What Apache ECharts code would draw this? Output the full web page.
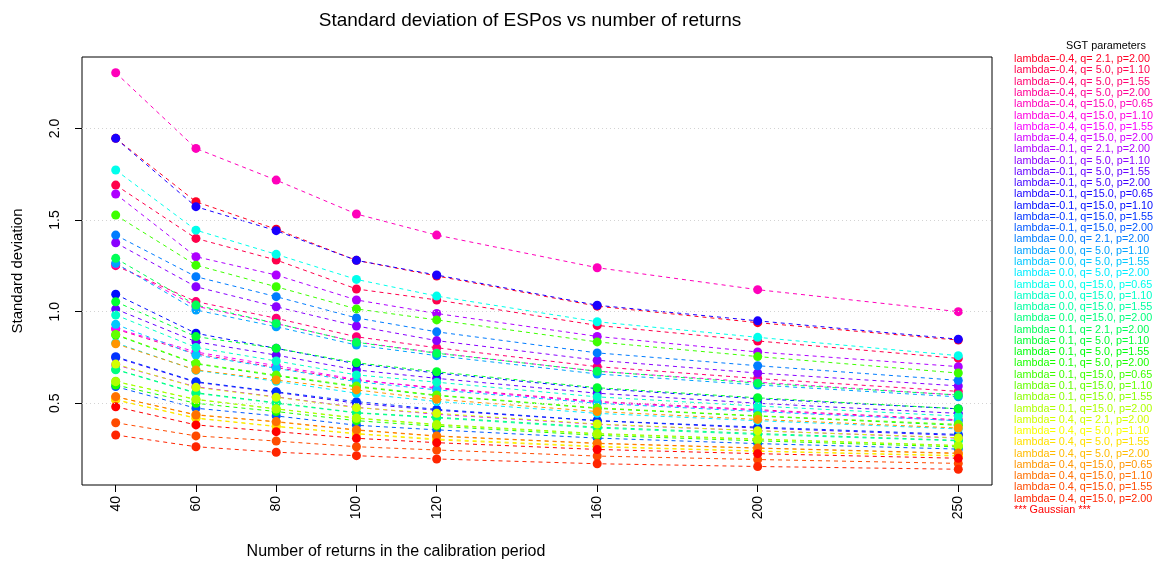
<!DOCTYPE html>
<html><head><meta charset="utf-8">
<script src="https://cdn.jsdelivr.net/npm/echarts@6/dist/echarts.min.js"></script>
<style>html,body{margin:0;padding:0;background:#fff}#c{width:1158px;height:563px}</style>
</head><body><div id="c"></div>
<script>
const xValues = [40, 60, 80, 100, 120, 160, 200, 250];
const yTicks = [0.5, 1.0, 1.5, 2.0];
const seriesNames = [
  "lambda=-0.4, q= 2.1, p=2.00","lambda=-0.4, q= 5.0, p=1.10","lambda=-0.4, q= 5.0, p=1.55","lambda=-0.4, q= 5.0, p=2.00",
  "lambda=-0.4, q=15.0, p=0.65","lambda=-0.4, q=15.0, p=1.10","lambda=-0.4, q=15.0, p=1.55","lambda=-0.4, q=15.0, p=2.00",
  "lambda=-0.1, q= 2.1, p=2.00","lambda=-0.1, q= 5.0, p=1.10","lambda=-0.1, q= 5.0, p=1.55","lambda=-0.1, q= 5.0, p=2.00",
  "lambda=-0.1, q=15.0, p=0.65","lambda=-0.1, q=15.0, p=1.10","lambda=-0.1, q=15.0, p=1.55","lambda=-0.1, q=15.0, p=2.00",
  "lambda= 0.0, q= 2.1, p=2.00","lambda= 0.0, q= 5.0, p=1.10","lambda= 0.0, q= 5.0, p=1.55","lambda= 0.0, q= 5.0, p=2.00",
  "lambda= 0.0, q=15.0, p=0.65","lambda= 0.0, q=15.0, p=1.10","lambda= 0.0, q=15.0, p=1.55","lambda= 0.0, q=15.0, p=2.00",
  "lambda= 0.1, q= 2.1, p=2.00","lambda= 0.1, q= 5.0, p=1.10","lambda= 0.1, q= 5.0, p=1.55","lambda= 0.1, q= 5.0, p=2.00",
  "lambda= 0.1, q=15.0, p=0.65","lambda= 0.1, q=15.0, p=1.10","lambda= 0.1, q=15.0, p=1.55","lambda= 0.1, q=15.0, p=2.00",
  "lambda= 0.4, q= 2.1, p=2.00","lambda= 0.4, q= 5.0, p=1.10","lambda= 0.4, q= 5.0, p=1.55","lambda= 0.4, q= 5.0, p=2.00",
  "lambda= 0.4, q=15.0, p=0.65","lambda= 0.4, q=15.0, p=1.10","lambda= 0.4, q=15.0, p=1.55","lambda= 0.4, q=15.0, p=2.00",
  "*** Gaussian ***"
];
const s00 = [1.946,1.600,1.450,1.280,1.195,1.030,0.940,0.845];
const s01 = [1.691,1.400,1.282,1.124,1.064,0.925,0.840,0.745];
const s02 = [1.251,1.055,0.964,0.863,0.803,0.700,0.635,0.565];
const s03 = [0.905,0.770,0.695,0.625,0.585,0.510,0.465,0.410];
const s04 = [2.304,1.891,1.718,1.533,1.418,1.240,1.120,1.000];
const s05 = [1.260,1.030,0.935,0.835,0.775,0.675,0.615,0.545];
const s06 = [0.909,0.780,0.705,0.630,0.580,0.505,0.460,0.405];
const s07 = [0.710,0.590,0.535,0.478,0.440,0.385,0.350,0.310];
const s08 = [1.642,1.300,1.200,1.064,0.990,0.865,0.780,0.700];
const s09 = [1.376,1.136,1.027,0.922,0.842,0.735,0.665,0.595];
const s10 = [1.014,0.836,0.763,0.682,0.636,0.555,0.500,0.445];
const s11 = [0.750,0.615,0.560,0.500,0.462,0.405,0.365,0.325];
const s12 = [1.946,1.573,1.442,1.280,1.200,1.035,0.950,0.850];
const s13 = [1.095,0.882,0.800,0.715,0.665,0.580,0.525,0.470];
const s14 = [0.754,0.618,0.563,0.509,0.467,0.405,0.370,0.330];
const s15 = [0.591,0.473,0.431,0.380,0.355,0.310,0.280,0.250];
const s16 = [1.418,1.191,1.082,0.966,0.890,0.775,0.705,0.625];
const s17 = [1.264,1.009,0.918,0.818,0.760,0.660,0.600,0.535];
const s18 = [0.931,0.763,0.691,0.618,0.573,0.500,0.455,0.405];
const s19 = [0.830,0.680,0.620,0.555,0.510,0.445,0.405,0.360];
const s20 = [1.773,1.445,1.313,1.176,1.085,0.945,0.860,0.760];
const s21 = [0.982,0.805,0.731,0.655,0.615,0.535,0.485,0.430];
const s22 = [0.683,0.555,0.500,0.447,0.420,0.365,0.330,0.295];
const s23 = [0.685,0.558,0.503,0.449,0.424,0.370,0.335,0.298];
const s24 = [1.291,1.036,0.936,0.833,0.773,0.675,0.610,0.545];
const s25 = [1.054,0.864,0.800,0.721,0.672,0.585,0.530,0.470];
const s26 = [0.873,0.715,0.650,0.590,0.542,0.472,0.430,0.380];
const s27 = [0.600,0.500,0.455,0.405,0.375,0.325,0.295,0.262];
const s28 = [1.527,1.254,1.136,1.015,0.955,0.835,0.755,0.665];
const s29 = [0.876,0.718,0.654,0.594,0.545,0.475,0.432,0.385];
const s30 = [0.620,0.520,0.470,0.420,0.385,0.335,0.305,0.270];
const s31 = [0.618,0.522,0.469,0.418,0.382,0.332,0.302,0.268];
const s32 = [0.714,0.587,0.533,0.476,0.445,0.387,0.350,0.312];
const s33 = [0.520,0.420,0.375,0.335,0.305,0.265,0.240,0.215];
const s34 = [0.518,0.418,0.373,0.333,0.300,0.262,0.238,0.212];
const s35 = [0.535,0.438,0.398,0.353,0.320,0.280,0.255,0.225];
const s36 = [0.825,0.682,0.627,0.573,0.522,0.455,0.412,0.365];
const s37 = [0.536,0.436,0.400,0.355,0.322,0.282,0.256,0.228];
const s38 = [0.394,0.322,0.294,0.263,0.245,0.212,0.193,0.172];
const s39 = [0.327,0.263,0.233,0.214,0.196,0.170,0.155,0.140];
const s40 = [0.481,0.382,0.345,0.309,0.285,0.248,0.225,0.200];
const seriesValues = [s00,s01,s02,s03,s04,s05,s06,s07,s08,s09,s10,s11,s12,s13,s14,s15,s16,s17,s18,s19,s20,
  s21,s22,s23,s24,s25,s26,s27,s28,s29,s30,s31,s32,s33,s34,s35,s36,s37,s38,s39,s40];

// reversed rainbow palette (pure HSV hues)
function hsv(h){
  const i=Math.floor(h*6), f=h*6-i, q=1-f, t=f;
  let r,g,b;
  switch(i%6){case 0:r=1;g=t;b=0;break;case 1:r=q;g=1;b=0;break;case 2:r=0;g=1;b=t;break;
    case 3:r=0;g=q;b=1;break;case 4:r=t;g=0;b=1;break;default:r=1;g=0;b=q;}
  const hx=v=>Math.round(v*255).toString(16).padStart(2,'0');
  return '#'+hx(r)+hx(g)+hx(b);
}
const n = seriesNames.length;
const colors = seriesNames.map((_,i)=>hsv((n-1-i)/n));

const FONT = 'Liberation Sans, Arial, sans-serif';
const chart = echarts.init(document.getElementById('c'), null, {renderer:'canvas'});
const series = seriesNames.map((name,i)=>({
  name, type:'line',
  data: xValues.map((x,k)=>[x, seriesValues[i][k]]),
  symbol:'circle', symbolSize:9,
  itemStyle:{color:colors[i]},
  lineStyle:{color:colors[i], width:1, type:[4,4]},
  emphasis:{disabled:true}, animation:false
}));
series[0].markLine = {
  silent:true, symbol:'none', label:{show:false}, animation:false,
  lineStyle:{color:'#d3d3d3', type:[1,3], width:1},
  data: yTicks.map(v=>({yAxis:v}))
};
chart.setOption({
  backgroundColor:'#fff',
  animation:false,
  title:[{text:'Standard deviation of ESPos vs number of returns', left:525, top:6, textAlign:'center',
    textStyle:{fontFamily:FONT, fontSize:19, fontWeight:'normal', color:'#000'}}],
  grid:{left:82, right:166, top:57, bottom:78, show:true, borderColor:'#000', borderWidth:1, backgroundColor:'transparent'},
  xAxis:{type:'value', min:31.6, max:258.4,
    axisLine:{show:false}, splitLine:{show:false},
    axisTick:{show:true, customValues:xValues, length:7, inside:false, lineStyle:{color:'#000'}},
    axisLabel:{customValues:xValues, rotate:90, margin:11, fontFamily:FONT, fontSize:14, color:'#000'}},
  yAxis:{type:'value', min:0.054, max:2.39,
    axisLine:{show:false}, splitLine:{show:false},
    axisTick:{show:true, customValues:yTicks, length:7, lineStyle:{color:'#000'}},
    axisLabel:{customValues:yTicks, rotate:90, margin:20, fontFamily:FONT, fontSize:14, color:'#000',
      formatter:v=>v.toFixed(1)}},
  legend:{orient:'vertical', left:1014, top:53.7, icon:'none', itemWidth:0, itemHeight:11, itemGap:0.27,
    selectedMode:false, padding:0,
    textStyle:{fontFamily:FONT, fontSize:10.8, lineHeight:11, padding:[0,0,0,-5]},
    data: seriesNames.map((nm,i)=>({name:nm, textStyle:{color:colors[i]}}))},
  graphic:[
    {type:'text', left:1066, top:41, style:{text:'SGT parameters', font:'10.8px '+FONT, fill:'#000'}},
    {type:'text', x:18, y:271, rotation:Math.PI/2, style:{text:'Standard deviation', font:'15px '+FONT, fill:'#000', align:'center', verticalAlign:'middle'}},
    {type:'text', x:396, y:552, style:{text:'Number of returns in the calibration period', font:'16px '+FONT, fill:'#000', align:'center', verticalAlign:'middle'}}
  ],
  series
});
</script></body></html>
